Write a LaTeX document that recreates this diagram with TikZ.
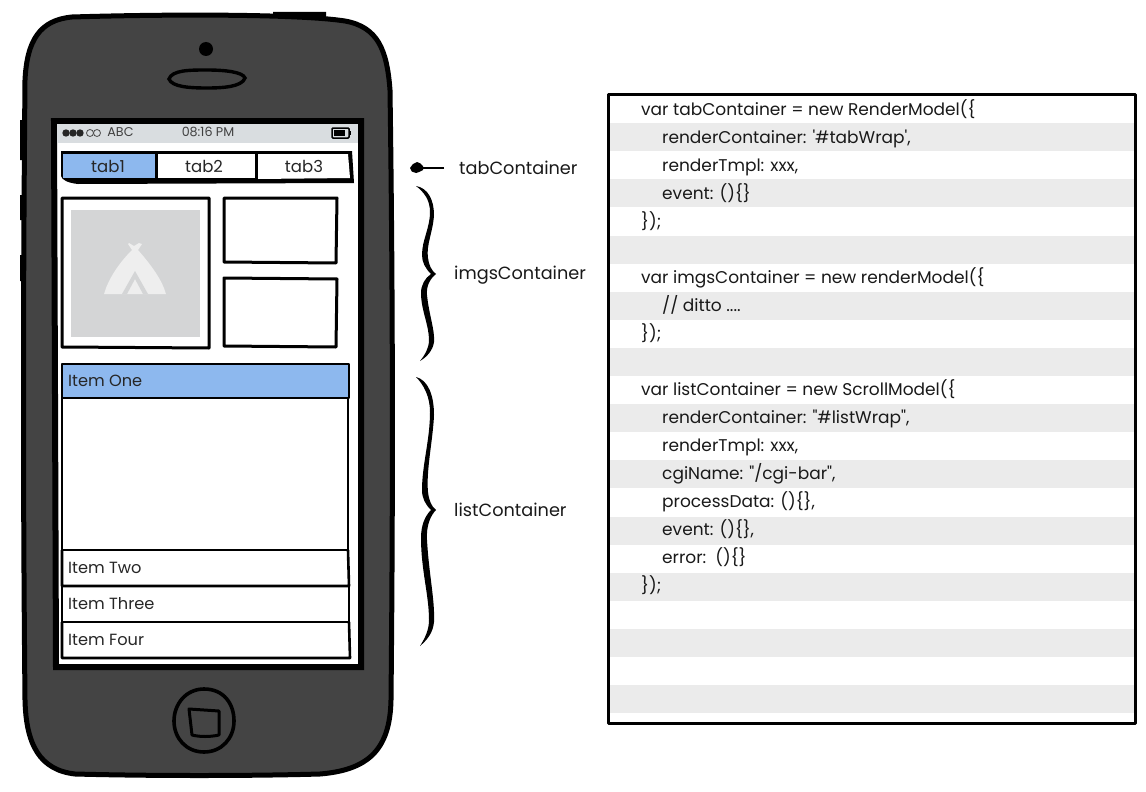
\documentclass[tikz,border=0pt]{standalone}
\usepackage{fontspec}
\setmainfont{Poppins}
\definecolor{body}{HTML}{444444}
\definecolor{stripe}{HTML}{EBEBEB}
\definecolor{hl}{HTML}{8DB8EE}
\definecolor{statusg}{HTML}{D9DDE0}
\definecolor{imgg}{HTML}{D4D5D6}
\definecolor{tent}{HTML}{EEEEEE}
\tikzset{
 sk/.style={draw=black,line width=3pt,line join=round},
 thin sk/.style={draw=black,line width=2.6pt,line join=round},
 codeln/.style={anchor=base west,yshift=-5.5pt,inner sep=0pt,font=\fontsize{17}{18}\selectfont,text=black!90},
 lab/.style={anchor=base west,yshift=-6pt,inner sep=0pt,font=\fontsize{17.7}{20}\selectfont,text=black!90},
 itm/.style={anchor=base west,yshift=-5pt,inner sep=0pt,font=\fontsize{16.2}{18}\selectfont,text=black!85},
 tabt/.style={anchor=base,yshift=-5.5pt,inner sep=0pt,font=\fontsize{16.5}{18}\selectfont,text=black!85},
 stat/.style={anchor=base,yshift=-4pt,inner sep=0pt,font=\fontsize{12.7}{14}\selectfont,text=black!75},
}
\begin{document}
\begin{tikzpicture}[x=1pt,y=-1pt]
\useasboundingbox (0,0) rectangle (1146,792);
% phone side buttons
\fill[black] (20,120) rectangle (26,160) (20,195) rectangle (26,220) (20,255) rectangle (26,281) (273,12) rectangle (326,18);
% phone body
\draw[fill=body,draw=black,line width=5pt,line join=round]
 (72,17) .. controls (170,14) and (300,14) .. (345,21)
 .. controls (378,27) and (387,50) .. (390,90)
 .. controls (393,300) and (393,500) .. (391,700)
 .. controls (390,750) and (368,770) .. (320,774)
 .. controls (250,776) and (150,776) .. (75,774)
 .. controls (40,770) and (26,745) .. (25,700)
 .. controls (23,500) and (23,300) .. (25,80)
 .. controls (27,40) and (40,20) .. (72,17) -- cycle;
% camera, speaker
\fill[black] (206,49) circle (7);
\draw[line width=3.4pt] (169,79) .. controls (172,70) and (190,70) .. (207,70) .. controls (225,70) and (243,72) .. (245,78) .. controls (242,87) and (222,88) .. (207,88) .. controls (190,88) and (172,87) .. (169,79) -- cycle;
% home button
\draw[line width=3.6pt] (204,689) .. controls (224,689) and (234,704) .. (234,721) .. controls (234,738) and (222,752) .. (204,752) .. controls (186,752) and (174,738) .. (174,721) .. controls (174,704) and (186,689) .. (204,689) -- cycle;
\draw[line width=3pt,line join=round] (189,709) -- (219,711) -- (219,735) .. controls (210,737) and (200,737) .. (192,735) -- cycle;
% screen
\draw[fill=white,draw=black,line width=6pt,miter limit=4] (54,121) -- (361,121) -- (361,667) -- (56,667) -- cycle;
\fill[statusg] (57,124) rectangle (358,143);
\foreach \x in {66,73,80}{\fill[black!85] (\x,133) circle (3.7);}
\foreach \x in {90,97}{\draw[black!70,line width=.8pt] (\x,133) circle (3.5);}
\node[stat] (carrier) at (120.5,132.5) {ABC};
\node[stat] (clock) at (208,132.5) {08:16 PM};
\draw[black,line width=1.5pt,rounded corners=1pt] (332,128) rectangle (349,138);
\fill[black] (334,130) rectangle (345,136);
\fill[black] (350,131) rectangle (351,135);
% tab bar
\fill[black] (61,151) -- (352,151) -- (354,183) -- (78,184) .. controls (68,183) and (62,180) .. (61,176) -- cycle;
\fill[hl] (63,154) rectangle (155,178);
\fill[white] (158,154) rectangle (255,178);
\fill[white] (258,154) -- (348,154) -- (350,178) -- (258,179) -- cycle;
\node[tabt] (t1) at (108,167) {tab1};
\node[tabt] (t2) at (204,167) {tab2};
\node[tabt] (t3) at (304,167) {tab3};
% image block
\draw[sk] (62,198) -- (209,198) -- (209,348) -- (62,347) -- cycle;
\fill[imgg] (71,210) rectangle (200,337);
\fill[tent] (129,243) -- (134,246) -- (139,243) -- (142,244) -- (138,250) .. controls (152,266) and (162,280) .. (166,294) -- (104,294) .. controls (108,280) and (118,264) .. (132,250) -- (128,244) -- cycle;
\fill[imgg] (122,294) -- (135,271) -- (148,294) -- (143,294) -- (135,279) -- (127,294) -- cycle;
\draw[sk] (224,198) -- (337,198) -- (336,263) -- (224,262) -- cycle;
\draw[sk] (224,278) -- (337,279) -- (336,347) -- (224,346) -- cycle;
% list
\fill[hl] (62,364) rectangle (349,398);
\draw[thin sk] (62,364) -- (349,364) -- (349,398) -- (62,398) -- cycle;
\node[itm] (i1) at (68,381) {Item One};
\draw[thin sk] (62,398) -- (62,550) -- (348,550) -- (348,398);
\draw[thin sk] (62,550) -- (62,586) -- (349,586) -- (348,550);
\draw[thin sk] (62,586) -- (62,622) -- (349,622) -- (349,586);
\draw[thin sk] (62,622) -- (62,658) -- (350,658) -- (349,622);
\node[itm] (i2) at (68,568) {Item Two};
\node[itm] (i3) at (68,604) {Item Three};
\node[itm] (i4) at (68,640) {Item Four};
% labels
\node[lab] (ltab) at (459,168) {tabContainer};
\node[lab] (limg) at (454,273) {imgsContainer};
\node[lab] (llist) at (454,510) {listContainer};
% arrow
\coordinate (atail) at (444,168);
\coordinate (ahead) at (418,168);
\draw[line width=2.4pt] (atail) -- (ahead);
\fill[black] (423,166) .. controls (421,164) and (419,162) .. (417,162) .. controls (414,163) and (411,165) .. (410,168) .. controls (410,171) and (413,173) .. (416,173) .. controls (418,173) and (421,171) .. (423,170) -- cycle;
% braces
\fill[black] (416,186) .. controls (428,188) and (434,200) .. (434,215)
 .. controls (433,232) and (426,245) .. (428,258) .. controls (429,265) and (431,270) .. (436,274)
 .. controls (431,278) and (426,285) .. (427,295) .. controls (429,315) and (435,330) .. (434,342) .. controls (433,350) and (427,357) .. (420,361)
 .. controls (425,355) and (429,348) .. (429,340) .. controls (429,325) and (421,310) .. (421,293) .. controls (421,285) and (425,278) .. (431,274)
 .. controls (425,268) and (422,262) .. (422,255) .. controls (422,240) and (430,228) .. (430,212) .. controls (430,200) and (424,192) .. (416,186) -- cycle;
\fill[black] (416,377) .. controls (428,380) and (434,395) .. (434,415)
 .. controls (433,440) and (426,470) .. (428,492) .. controls (429,500) and (431,506) .. (436,510)
 .. controls (431,515) and (426,525) .. (427,540) .. controls (429,575) and (435,600) .. (434,622) .. controls (433,633) and (427,640) .. (420,646)
 .. controls (425,638) and (429,630) .. (429,620) .. controls (429,595) and (421,570) .. (421,538) .. controls (421,525) and (425,516) .. (431,510)
 .. controls (425,504) and (422,498) .. (422,490) .. controls (422,465) and (430,440) .. (430,412) .. controls (430,397) and (424,385) .. (416,377) -- cycle;
% code panel
\fill[white] (608,94) rectangle (1135,723);
\foreach \y in {123,179,236,292,348,404,460,517,573,629,685}{\fill[stripe] (609,\y) rectangle (1134,\y+28);}
\draw[sk] (608,94) -- (1135,94) -- (1135,723) -- (608,723) -- cycle;
\node[codeln] (c1) at (641,110) {var tabContainer = new RenderModel(\{};
\node[codeln] (c2) at (662,138) {renderContainer: \textquotesingle\#tabWrap\textquotesingle,};
\node[codeln] (c3) at (662,166) {renderTmpl: xxx,};
\node[codeln] (c4) at (662,194) {event: ()\{\}};
\node[codeln] (c5) at (641,222) {\});};
\node[codeln] (c6) at (641,278) {var imgsContainer = new renderModel(\{};
\node[codeln] (c7) at (662,306) {// ditto ....};
\node[codeln] (c8) at (641,334) {\});};
\node[codeln] (c9) at (641,390) {var listContainer = new ScrollModel(\{};
\node[codeln] (c10) at (662,418) {renderContainer: \textquotedbl\#listWrap\textquotedbl,};
\node[codeln] (c11) at (662,446) {renderTmpl: xxx,};
\node[codeln] (c12) at (662,474) {cgiName: \textquotedbl/cgi-bar\textquotedbl,};
\node[codeln] (c13) at (662,502) {processData: ()\{\},};
\node[codeln] (c14) at (662,530) {event: ()\{\},};
\node[codeln] (c15) at (662,558) {error:\ \ ()\{\}};
\node[codeln] (c16) at (641,586) {\});};
\end{tikzpicture}
\end{document}
